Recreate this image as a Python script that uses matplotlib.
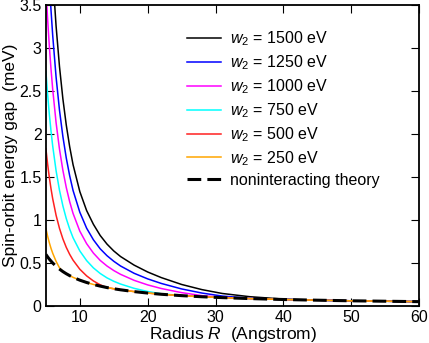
import numpy as np
import matplotlib
matplotlib.use("Agg")
from matplotlib import pyplot as plt

plt.rcParams['font.family'] = ['Liberation Sans', 'DejaVu Sans']
plt.rcParams['mathtext.fontset'] = 'custom'
plt.rcParams['mathtext.it'] = 'Liberation Sans:italic'
plt.rcParams['mathtext.rm'] = 'Liberation Sans'

# radius (Angstrom)
R = [5, 5.25, 5.5, 5.75, 6, 6.5, 7, 7.5, 8, 8.5, 9, 10, 11, 12, 13, 14, 15, 16,
     18, 20, 22, 25, 28, 31, 35, 40, 45, 50, 55, 60]

# noninteracting theory (meV)
gap_free = [0.600, 0.571, 0.545, 0.522, 0.500, 0.462, 0.429, 0.400, 0.375, 0.353,
            0.333, 0.300, 0.273, 0.250, 0.231, 0.214, 0.200, 0.188, 0.167, 0.150,
            0.136, 0.120, 0.107, 0.097, 0.086, 0.075, 0.067, 0.060, 0.055, 0.050]

# interacting curves, beyond the meeting point they follow the theory line
gap_1500 = [5.650, 5.100, 4.625, 4.213, 3.853, 3.257, 2.787, 2.411, 2.106, 1.854,
            1.644, 1.330, 1.110, 0.950, 0.820, 0.720, 0.640, 0.575, 0.475, 0.395,
            0.330, 0.250, 0.190, 0.145, 0.108, 0.080, 0.067, 0.060, 0.055, 0.050]
gap_1250 = [4.620, 4.170, 3.782, 3.445, 3.150, 2.663, 2.279, 1.972, 1.722, 1.516,
            1.344, 1.090, 0.905, 0.770, 0.665, 0.585, 0.520, 0.465, 0.380, 0.315,
            0.262, 0.198, 0.150, 0.115, 0.090, 0.076, 0.067, 0.060, 0.055, 0.050]
gap_1000 = [3.700, 3.340, 3.029, 2.759, 2.523, 2.133, 1.825, 1.579, 1.379, 1.214,
            1.077, 0.870, 0.725, 0.615, 0.530, 0.465, 0.412, 0.368, 0.298, 0.245,
            0.203, 0.155, 0.120, 0.100, 0.086, 0.075, 0.067, 0.060, 0.055, 0.050]
gap_750 = [2.730, 2.464, 2.235, 2.036, 1.862, 1.574, 1.347, 1.165, 1.017, 0.896,
           0.794, 0.640, 0.528, 0.443, 0.378, 0.327, 0.287, 0.255, 0.205, 0.168,
           0.142, 0.120, 0.107, 0.097, 0.086, 0.075, 0.067, 0.060, 0.055, 0.050]
gap_500 = [1.830, 1.652, 1.498, 1.365, 1.248, 1.055, 0.903, 0.781, 0.682, 0.601,
           0.533, 0.427, 0.350, 0.291, 0.246, 0.214, 0.200, 0.188, 0.167, 0.150,
           0.136, 0.120, 0.107, 0.097, 0.086, 0.075, 0.067, 0.060, 0.055, 0.050]
gap_250 = [0.900, 0.812, 0.737, 0.671, 0.614, 0.519, 0.444, 0.400, 0.375, 0.353,
           0.333, 0.300, 0.273, 0.250, 0.231, 0.214, 0.200, 0.188, 0.167, 0.150,
           0.136, 0.120, 0.107, 0.097, 0.086, 0.075, 0.067, 0.060, 0.055, 0.050]

w2_labels = ['1500', '1250', '1000', '750', '500', '250']
colors = ['black', '#0000ff', '#ff00ff', '#00ffff', '#ff2020', '#ffa500']
series = [gap_1500, gap_1250, gap_1000, gap_750, gap_500, gap_250]

fig = plt.figure(figsize=(4.29, 3.43), dpi=100)
ax = fig.add_axes([0.107, 0.108, 0.870, 0.877])

for gap, lab, c in zip(series, w2_labels, colors):
    ax.plot(R, gap, color=c, lw=1.1, label='$w_2$ = %s eV' % lab)
ax.plot(R, gap_free, color='black', lw=2.2, dashes=(4.5, 2),
        label='noninteracting theory')

ax.set_xlim(5, 60)
ax.set_ylim(0, 3.5)
ax.set_xticks([10, 20, 30, 40, 50, 60])
ax.set_yticks([0, 0.5, 1, 1.5, 2, 2.5, 3, 3.5])
ax.set_yticklabels(['0', '0.5', '1', '1.5', '2', '2.5', '3', '3.5'])
ax.tick_params(direction='in', top=True, right=True, length=6, width=0.8,
               labelsize=11.5, pad=3, colors='black')
for s in ax.spines.values():
    s.set_linewidth(1.3)

ax.set_xlabel('Radius $R$  (Angstrom)', fontsize=12.5, labelpad=0)
ax.set_ylabel('Spin-orbit energy gap  (meV)', fontsize=12.5, labelpad=1)

ax.legend(loc='upper left', bbox_to_anchor=(0.378, 0.92), frameon=False,
          borderaxespad=0, borderpad=0, handlelength=2.1, handletextpad=0.6,
          labelspacing=0.33, fontsize=11.5)

fig.savefig('out.png', dpi=100)
